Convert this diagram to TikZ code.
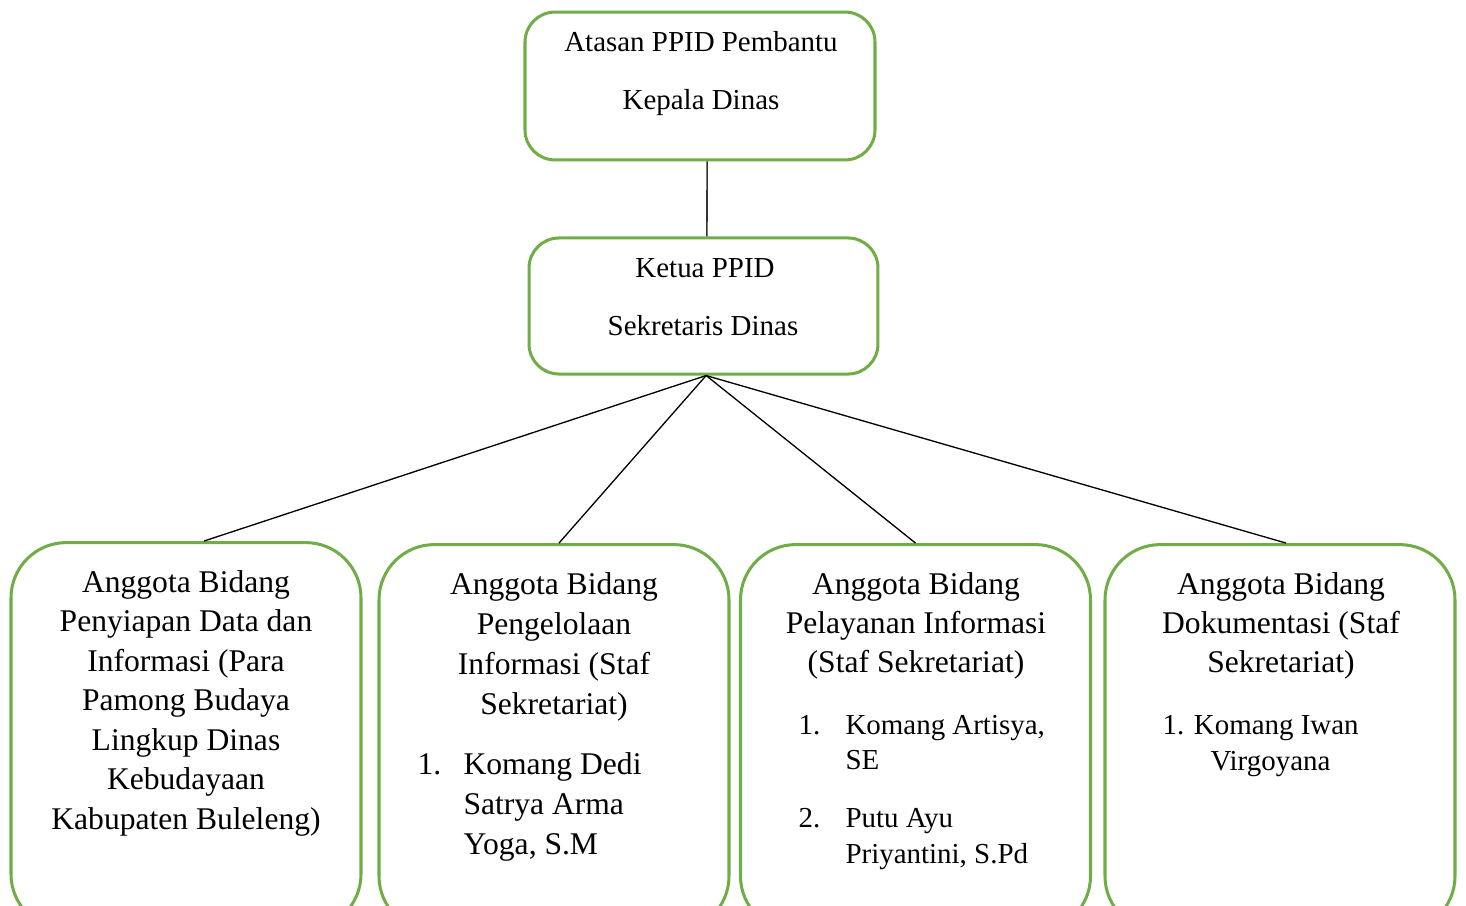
\documentclass[tikz,border=0pt]{standalone}
\usepackage{fontspec}
\setmainfont{Liberation Serif}
\definecolor{hijau}{HTML}{70AD47}

\begin{document}
\begin{tikzpicture}[x=0.38pt,y=-0.38pt,
    kotak/.style={draw=hijau, line width=1.15pt, rounded corners=11.4pt, inner sep=0pt},
    anggota/.style={draw=hijau, line width=1.15pt, rounded corners=21pt, inner sep=0pt,
        minimum width=133pt, minimum height=147pt},
    judul/.style={anchor=base, inner sep=0pt, font=\fontsize{11}{13}\selectfont},
    isi/.style={anchor=base, inner sep=0pt, font=\fontsize{12}{15}\selectfont},
    nama/.style={anchor=base west, inner sep=0pt, font=\fontsize{11}{13}\selectfont},
    namab/.style={anchor=base west, inner sep=0pt, font=\fontsize{12}{15}\selectfont}]
    \useasboundingbox (0,0) rectangle (1466,906);
    \clip (0,0) rectangle (1466,906);

    \node [kotak, minimum width=133pt, minimum height=56.2pt] (atasan) at (700,86) {};
    \node [kotak, minimum width=132.6pt, minimum height=51.7pt] (ketua) at (703.5,306) {};

    \node [judul] (t1) at (701,51) {Atasan PPID Pembantu};
    \node [judul] (t2) at (701,109) {Kepala Dinas};
    \node [judul] (t3) at (705,277) {Ketua PPID};
    \node [judul] (t4) at (703,335) {Sekretaris Dinas};

    \node [anggota] (b1) at (186,736) {};
    \node [anggota] (b2) at (554,738) {};
    \node [anggota] (b3) at (915.5,738) {};
    \node [anggota] (b4) at (1280,738) {};

    \draw [line width=0.6pt, black!80] ([xshift=2.7pt]atasan.south) -- ([xshift=1.3pt]ketua.north);
    \draw [line width=0.5pt] ([xshift=1pt]ketua.south) -- ([xshift=6.8pt]b1.north);
    \draw [line width=0.5pt] ([xshift=1pt]ketua.south) -- ([xshift=1.9pt]b2.north);
    \draw [line width=0.5pt] ([xshift=1pt]ketua.south) -- (b3.north);
    \draw [line width=0.5pt] ([xshift=1pt]ketua.south) -- ([xshift=2.3pt]b4.north);

    % kotak 1
    \foreach \t [count=\i] in {Anggota Bidang, Penyiapan Data dan, Informasi (Para,
        Pamong Budaya, Lingkup Dinas, Kebudayaan, Kabupaten Buleleng)}
        \node [isi] (p\i) at (186,{592+39.5*(\i-1)}) {\t};

    % kotak 2
    \foreach \t [count=\i] in {Anggota Bidang, Pengelolaan, Informasi (Staf, Sekretariat)}
        \node [isi] (q\i) at (554,{594+40*(\i-1)}) {\t};
    \node [namab] (q5) at (417,774) {1.};
    \foreach \t [count=\i] in {Komang Dedi, Satrya Arma, {Yoga, S.M}}
        \node [namab] (n\i) at (463,{774+40*(\i-1)}) {\t};

    % kotak 3
    \foreach \t [count=\i] in {Anggota Bidang, Pelayanan Informasi, (Staf Sekretariat)}
        \node [isi] (r\i) at (916,{594+39*(\i-1)}) {\t};
    \node [nama] (r4) at (798,734) {1.};
    \node [nama] (r5) at (845,734) {Komang Artisya,};
    \node [nama] (r6) at (845,769) {SE};
    \node [nama] (r7) at (798,827) {2.};
    \node [nama] (r8) at (845,827) {Putu Ayu};
    \node [nama] (r9) at (845,863) {Priyantini, S.Pd};

    % kotak 4
    \foreach \t [count=\i] in {Anggota Bidang, Dokumentasi (Staf, Sekretariat)}
        \node [isi] (s\i) at (1281,{594+39*(\i-1)}) {\t};
    \node [nama] (s4) at (1162,734) {1. Komang Iwan};
    \node [nama] (s5) at (1210,770) {Virgoyana};
\end{tikzpicture}
\end{document}
